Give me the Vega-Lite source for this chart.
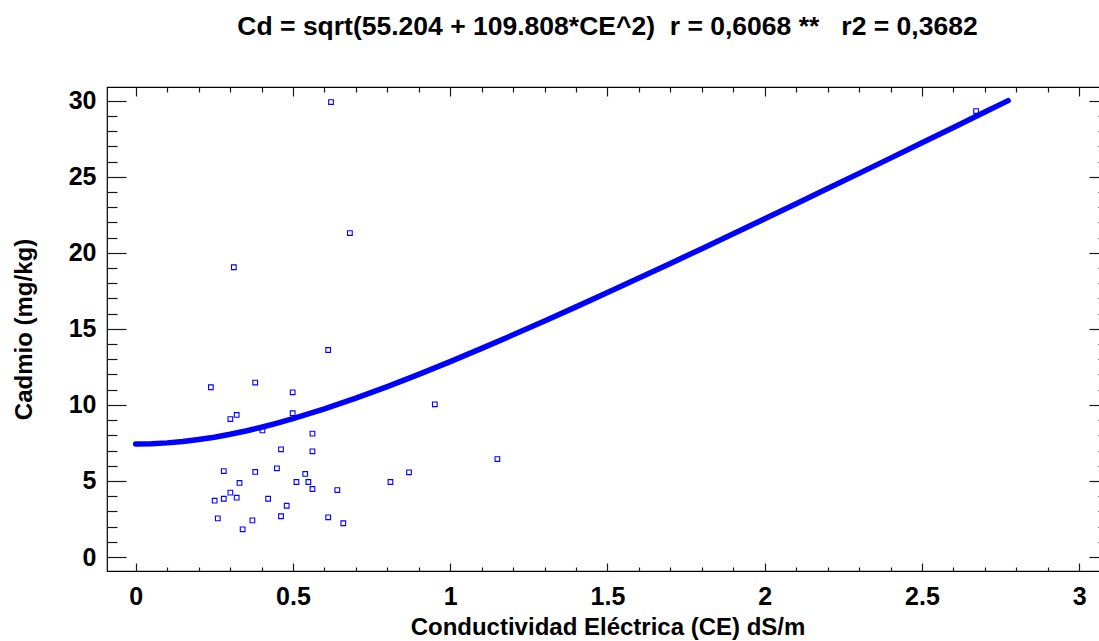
{
  "$schema": "https://vega.github.io/schema/vega-lite/v6.json",
  "width": 1001,
  "height": 484,
  "autosize": {"type": "none"},
  "padding": {"left": 107, "top": 87, "right": -9, "bottom": 70},
  "background": "white",
  "title": {
    "text": "Cd = sqrt(55.204 + 109.808*CE^2) \u00a0r = 0,6068 ** \u00a0\u00a0r2 = 0,3682",
    "font": "Liberation Sans",
    "fontSize": 26.5,
    "fontWeight": "bold",
    "color": "#000000",
    "anchor": "middle",
    "baseline": "bottom",
    "offset": 19
  },
  "datasets": {
    "fit": [
      {"CE": 0, "Cd": 7.430},
      {"CE": 0.05, "Cd": 7.448},
      {"CE": 0.1, "Cd": 7.503},
      {"CE": 0.15, "Cd": 7.594},
      {"CE": 0.2, "Cd": 7.720},
      {"CE": 0.25, "Cd": 7.878},
      {"CE": 0.3, "Cd": 8.068},
      {"CE": 0.35, "Cd": 8.286},
      {"CE": 0.4, "Cd": 8.531},
      {"CE": 0.45, "Cd": 8.800},
      {"CE": 0.5, "Cd": 9.092},
      {"CE": 0.6, "Cd": 9.733},
      {"CE": 0.7, "Cd": 10.441},
      {"CE": 0.8, "Cd": 11.202},
      {"CE": 0.9, "Cd": 12.006},
      {"CE": 1.0, "Cd": 12.846},
      {"CE": 1.1, "Cd": 13.714},
      {"CE": 1.2, "Cd": 14.606},
      {"CE": 1.3, "Cd": 15.517},
      {"CE": 1.4, "Cd": 16.445},
      {"CE": 1.5, "Cd": 17.386},
      {"CE": 1.6, "Cd": 18.339},
      {"CE": 1.7, "Cd": 19.302},
      {"CE": 1.8, "Cd": 20.273},
      {"CE": 1.9, "Cd": 21.251},
      {"CE": 2.0, "Cd": 22.236},
      {"CE": 2.1, "Cd": 23.226},
      {"CE": 2.2, "Cd": 24.222},
      {"CE": 2.3, "Cd": 25.221},
      {"CE": 2.4, "Cd": 26.224},
      {"CE": 2.5, "Cd": 27.231},
      {"CE": 2.6, "Cd": 28.240},
      {"CE": 2.7, "Cd": 29.252},
      {"CE": 2.774, "Cd": 30.003}
    ],
    "muestras": [
      {"CE": 0.239, "Cd": 11.16},
      {"CE": 0.380, "Cd": 11.47},
      {"CE": 0.499, "Cd": 10.83},
      {"CE": 0.301, "Cd": 9.07},
      {"CE": 0.321, "Cd": 9.34},
      {"CE": 0.499, "Cd": 9.45},
      {"CE": 0.403, "Cd": 8.32},
      {"CE": 0.562, "Cd": 8.11},
      {"CE": 0.462, "Cd": 7.08},
      {"CE": 0.562, "Cd": 6.95},
      {"CE": 0.280, "Cd": 5.65},
      {"CE": 0.380, "Cd": 5.59},
      {"CE": 0.449, "Cd": 5.83},
      {"CE": 0.539, "Cd": 5.46},
      {"CE": 0.330, "Cd": 4.87},
      {"CE": 0.511, "Cd": 4.93},
      {"CE": 0.549, "Cd": 4.93},
      {"CE": 0.562, "Cd": 4.47},
      {"CE": 0.301, "Cd": 4.23},
      {"CE": 0.321, "Cd": 3.90},
      {"CE": 0.280, "Cd": 3.83},
      {"CE": 0.251, "Cd": 3.70},
      {"CE": 0.421, "Cd": 3.83},
      {"CE": 0.480, "Cd": 3.37},
      {"CE": 0.462, "Cd": 2.68},
      {"CE": 0.261, "Cd": 2.54},
      {"CE": 0.371, "Cd": 2.41},
      {"CE": 0.340, "Cd": 1.82},
      {"CE": 0.612, "Cd": 2.61},
      {"CE": 0.641, "Cd": 4.40},
      {"CE": 0.810, "Cd": 4.93},
      {"CE": 0.660, "Cd": 2.22},
      {"CE": 0.869, "Cd": 5.57},
      {"CE": 0.621, "Cd": 29.91},
      {"CE": 0.681, "Cd": 21.30},
      {"CE": 0.312, "Cd": 19.05},
      {"CE": 0.612, "Cd": 13.61},
      {"CE": 0.951, "Cd": 10.04},
      {"CE": 1.150, "Cd": 6.44},
      {"CE": 2.672, "Cd": 29.32}
    ]
  },
  "layer": [
    {
      "data": {"name": "fit"},
      "mark": {"type": "line", "color": "#0000ff", "strokeWidth": 5.5, "strokeCap": "round"},
      "encoding": {
        "x": {
          "field": "CE",
          "type": "quantitative",
          "scale": {"domain": [-0.0913, 3.0915], "nice": false, "zero": false},
          "axis": {
            "orient": "bottom",
            "values": [0, 0.1, 0.2, 0.3, 0.4, 0.5, 0.6, 0.7, 0.8, 0.9, 1, 1.1, 1.2, 1.3, 1.4, 1.5, 1.6, 1.7, 1.8, 1.9, 2, 2.1, 2.2, 2.3, 2.4, 2.5, 2.6, 2.7, 2.8, 2.9, 3],
            "labelExpr": "abs(datum.value * 2 - round(datum.value * 2)) < 0.000001 ? format(datum.value, '~g') : ''",
            "tickSize": {"condition": {"test": "abs(datum.value * 2 - round(datum.value * 2)) < 0.000001", "value": -8}, "value": -4},
            "labelPadding": 21,
            "title": "Conductividad Eléctrica (CE) dS/m",
            "titleFontSize": 24,
            "titlePadding": 2
          }
        },
        "y": {
          "field": "Cd",
          "type": "quantitative",
          "scale": {"domain": [-0.92, 30.9], "nice": false, "zero": false},
          "axis": {
            "orient": "left",
            "values": [0, 1, 2, 3, 4, 5, 6, 7, 8, 9, 10, 11, 12, 13, 14, 15, 16, 17, 18, 19, 20, 21, 22, 23, 24, 25, 26, 27, 28, 29, 30],
            "labelExpr": "datum.value % 5 === 0 ? datum.label : ''",
            "tickSize": {"condition": {"test": "datum.value % 5 === 0", "value": -19}, "value": -10},
            "labelPadding": 30,
            "title": "Cadmio (mg/kg)",
            "titleFontSize": 24,
            "titlePadding": 32
          }
        }
      }
    },
    {
      "data": {"name": "muestras"},
      "mark": {"type": "point", "shape": "square", "filled": false, "color": "#0000ff", "size": 22, "strokeWidth": 1.1, "opacity": 1},
      "encoding": {
        "x": {
          "field": "CE",
          "type": "quantitative",
          "axis": {
            "orient": "top",
            "values": [0, 0.1, 0.2, 0.3, 0.4, 0.5, 0.6, 0.7, 0.8, 0.9, 1, 1.1, 1.2, 1.3, 1.4, 1.5, 1.6, 1.7, 1.8, 1.9, 2, 2.1, 2.2, 2.3, 2.4, 2.5, 2.6, 2.7, 2.8, 2.9, 3],
            "labels": false,
            "tickSize": {"condition": {"test": "abs(datum.value * 2 - round(datum.value * 2)) < 0.000001", "value": -9}, "value": -5},
            "title": null
          }
        },
        "y": {
          "field": "Cd",
          "type": "quantitative",
          "axis": {
            "orient": "right",
            "values": [0, 1, 2, 3, 4, 5, 6, 7, 8, 9, 10, 11, 12, 13, 14, 15, 16, 17, 18, 19, 20, 21, 22, 23, 24, 25, 26, 27, 28, 29, 30],
            "labels": false,
            "tickSize": {"condition": {"test": "datum.value % 5 === 0", "value": -19}, "value": -10},
            "title": null
          }
        }
      }
    }
  ],
  "resolve": {"axis": {"x": "independent", "y": "independent"}},
  "config": {
    "view": {"stroke": "#000000", "strokeWidth": 1.2},
    "axis": {
      "domain": false,
      "grid": false,
      "tickColor": "#1a1a1a",
      "tickWidth": 1.2,
      "labelFont": "Liberation Sans",
      "labelFontWeight": "bold",
      "labelFontSize": 25,
      "labelColor": "#000000",
      "labelOverlap": false,
      "labelFlush": false,
      "labelBound": false,
      "titleFont": "Liberation Sans",
      "titleFontWeight": "bold",
      "titleColor": "#000000"
    }
  }
}
